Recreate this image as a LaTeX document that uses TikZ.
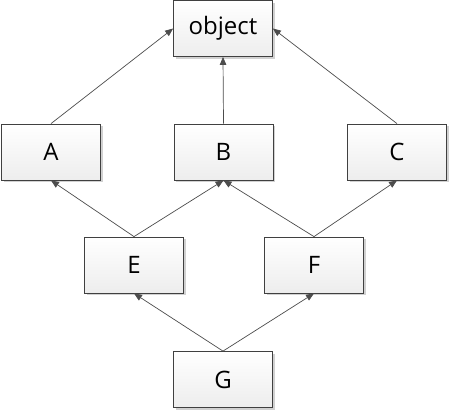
\documentclass[tikz,border=0pt]{standalone}
\usepackage{fontspec}
\setmainfont{Open Sans}
\usetikzlibrary{arrows.meta,shadows}

\tikzset{
  cls/.style={draw=black!75,line width=0.8pt,top color=white,bottom color=black!7,
    minimum width=99pt,minimum height=56pt,inner sep=0pt,
    font=\fontsize{24}{28}\selectfont,
    drop shadow={shadow xshift=2pt,shadow yshift=-2pt,fill=black!18,opacity=1}},
  inh/.style={-{Triangle[length=8pt,width=6.5pt]},draw=black!70,line width=0.7pt}
}

\begin{document}
\begin{tikzpicture}[x=1pt,y=-1pt]
\useasboundingbox (0,0) rectangle (449,410);

% root class
\node[cls] (object) at (223,28.5) {object};

% first level
\node[cls] (A) at (51,152) {A};
\node[cls] (B) at (223.5,152) {B};
\node[cls] (C) at (397,152) {C};

% second level
\node[cls] (E) at (134,265) {E};
\node[cls] (F) at (314,265) {F};

% bottom class
\node[cls] (G) at (223,379.5) {G};

% inheritance arrows
\draw[inh] (A.north) -- (object.west);
\draw[inh] (B.north) -- (object.south);
\draw[inh] (C.north) -- (object.east);
\draw[inh] (E.north) -- (A.south);
\draw[inh] (E.north) -- (B.south);
\draw[inh] (F.north) -- (B.south);
\draw[inh] (F.north) -- (C.south);
\draw[inh] (G.north) -- (E.south);
\draw[inh] (G.north) -- (F.south);

\end{tikzpicture}
\end{document}
